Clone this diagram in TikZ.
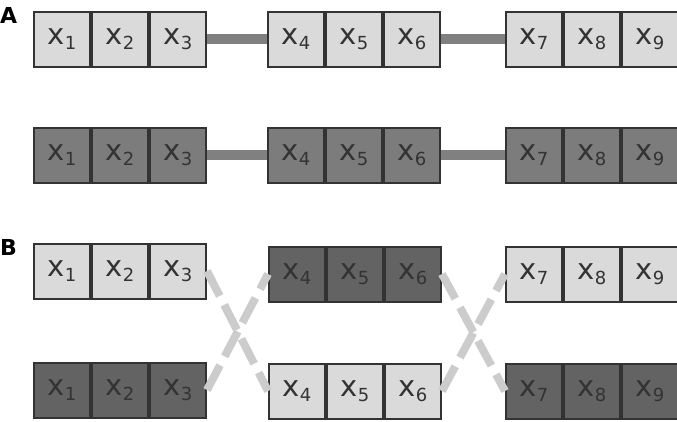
\documentclass[tikz,border=0pt]{standalone}
\usepackage{fontspec}
\setmainfont{DejaVu Sans}
\usetikzlibrary{positioning}
\definecolor{blight}{HTML}{DADADA}
\definecolor{bmid}{HTML}{7C7C7C}
\definecolor{bdark}{HTML}{636363}
\definecolor{bline}{HTML}{333333}
\definecolor{linkgray}{HTML}{808080}
\definecolor{swapgray}{HTML}{CCCCCC}
\newcommand{\xv}[1]{x\raisebox{-0.28ex}{\fontsize{18}{18}\selectfont #1}}
\tikzset{
  cell/.style={draw=bline,line width=2pt,minimum width=56pt,minimum height=55pt,
    inner sep=0pt,text=bline,font=\fontsize{29}{29}\selectfont},
  lightcell/.style={cell,fill=blight},
  midcell/.style={cell,fill=bmid},
  darkcell/.style={cell,fill=bdark},
  link/.style={linkgray,line width=10pt},
  swap/.style={swapgray,line width=8pt,dash pattern=on 28pt off 10pt},
  panel/.style={font=\fontsize{22}{22}\selectfont\bfseries,text=black,anchor=north west,inner sep=0pt}
}
\begin{document}
\begin{tikzpicture}[x=1pt,y=-1pt]
  \useasboundingbox (0,0) rectangle (677,421);
  \clip (0,0) rectangle (677,421);
  % A
  \node[panel] (lblA) at (0,7) {A};
  \node[lightcell] (a1) at (62,39) {\xv{1}};
  \node[lightcell,right=0pt of a1] (a2) {\xv{2}};
  \node[lightcell,right=0pt of a2] (a3) {\xv{3}};
  \node[lightcell] (a4) at (296,39) {\xv{4}};
  \node[lightcell,right=0pt of a4] (a5) {\xv{5}};
  \node[lightcell,right=0pt of a5] (a6) {\xv{6}};
  \node[lightcell] (a7) at (534,39) {\xv{7}};
  \node[lightcell,right=0pt of a7] (a8) {\xv{8}};
  \node[lightcell,right=0pt of a8] (a9) {\xv{9}};
  \draw[link] (a3.east) -- (a4.west);
  \draw[link] (a6.east) -- (a7.west);

  \node[midcell] (b1) at (62,155) {\xv{1}};
  \node[midcell,right=0pt of b1] (b2) {\xv{2}};
  \node[midcell,right=0pt of b2] (b3) {\xv{3}};
  \node[midcell] (b4) at (296,155) {\xv{4}};
  \node[midcell,right=0pt of b4] (b5) {\xv{5}};
  \node[midcell,right=0pt of b5] (b6) {\xv{6}};
  \node[midcell] (b7) at (534,155) {\xv{7}};
  \node[midcell,right=0pt of b7] (b8) {\xv{8}};
  \node[midcell,right=0pt of b8] (b9) {\xv{9}};
  \draw[link] (b3.east) -- (b4.west);
  \draw[link] (b6.east) -- (b7.west);

  % B
  \node[panel] (lblB) at (0,239) {B};
  \node[lightcell] (c1) at (62,271) {\xv{1}};
  \node[lightcell,right=0pt of c1] (c2) {\xv{2}};
  \node[lightcell,right=0pt of c2] (c3) {\xv{3}};
  \node[darkcell] (c4) at (297,274) {\xv{4}};
  \node[darkcell,right=0pt of c4] (c5) {\xv{5}};
  \node[darkcell,right=0pt of c5] (c6) {\xv{6}};
  \node[lightcell] (c7) at (534,274) {\xv{7}};
  \node[lightcell,right=0pt of c7] (c8) {\xv{8}};
  \node[lightcell,right=0pt of c8] (c9) {\xv{9}};

  \node[darkcell] (d1) at (62,390) {\xv{1}};
  \node[darkcell,right=0pt of d1] (d2) {\xv{2}};
  \node[darkcell,right=0pt of d2] (d3) {\xv{3}};
  \node[lightcell] (d4) at (297,391) {\xv{4}};
  \node[lightcell,right=0pt of d4] (d5) {\xv{5}};
  \node[lightcell,right=0pt of d5] (d6) {\xv{6}};
  \node[darkcell] (d7) at (534,391) {\xv{7}};
  \node[darkcell,right=0pt of d7] (d8) {\xv{8}};
  \node[darkcell,right=0pt of d8] (d9) {\xv{9}};
  \draw[swap] (c3.east) -- (d4.west);
  \draw[swap] (d3.east) -- (c4.west);
  \draw[swap] (c6.east) -- (d7.west);
  \draw[swap] (d6.east) -- (c7.west);
\end{tikzpicture}
\end{document}
